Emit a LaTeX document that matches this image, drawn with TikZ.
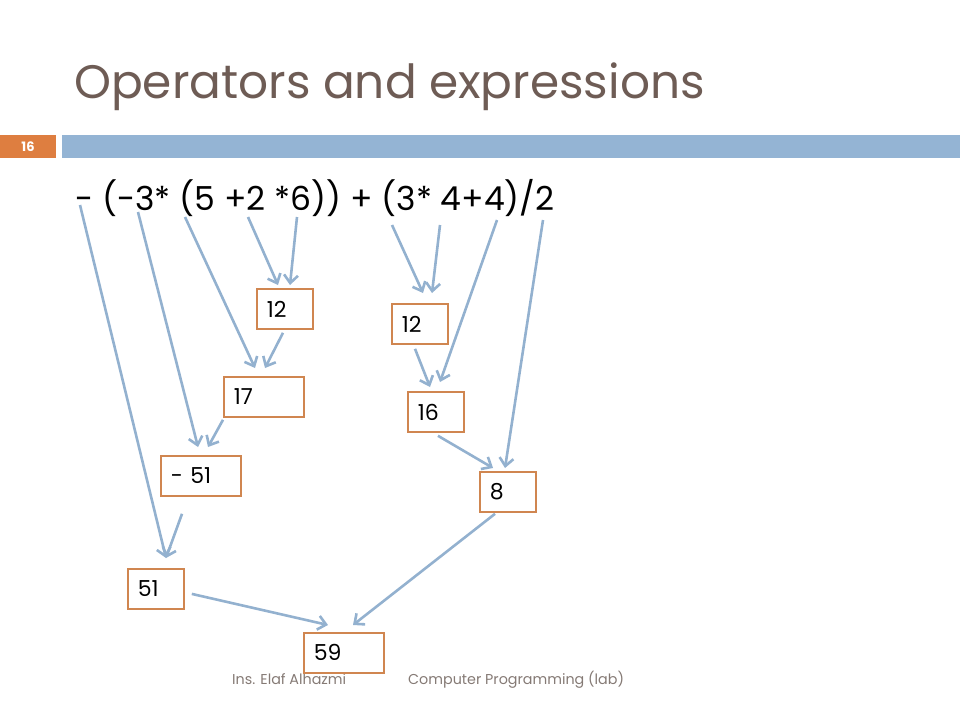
\documentclass[tikz,border=0pt]{standalone}
\usepackage{fontspec}
\setmainfont{Poppins}
\usetikzlibrary{arrows.meta,calc}
\definecolor{titlebrown}{HTML}{6E5C55}
\definecolor{barblue}{HTML}{94B4D4}
\definecolor{numorange}{HTML}{DE7E40}
\definecolor{boxorange}{HTML}{D08650}
\definecolor{arrblue}{HTML}{93B1CF}
\definecolor{footgray}{HTML}{857A75}
\begin{document}
\begin{tikzpicture}[x=1pt,y=-1pt,
  valbox/.style={draw=boxorange,line width=1.8pt,fill=white,anchor=north west,
    minimum height=40pt,inner xsep=10pt,inner ysep=0pt,align=left,font=\fontsize{22}{24}\selectfont},
  narrow/.style={valbox,text width=36pt,minimum width=56pt},
  wide/.style={valbox,text width=60pt,minimum width=80pt},
  arr/.style={draw=arrblue,line width=2.6pt,-{Straight Barb[length=8pt,width=14pt]}}]
\useasboundingbox (0,0) rectangle (960,720);
\node[anchor=base west,text=titlebrown,inner sep=0pt,font=\fontsize{47}{50}\selectfont] (title) at (74,98) {Operators and expressions};
\fill[numorange] (0,135) rectangle (56,158);
\fill[barblue] (62,135) rectangle (960,158);
\node[text=white,font=\fontsize{13}{14}\selectfont\bfseries] (slideno) at (28,147) {16};
\node[anchor=base west,inner sep=0pt,font=\fontsize{33}{36}\selectfont] (expr) at (75,210) {- (-3* (5 +2 *6)) + (3* 4+4)/2};
\node[anchor=base west,inner sep=0pt,text=footgray,font=\fontsize{14.3}{16}\selectfont] (author) at (232,684) {Ins. Elaf Alhazmi};
\node[anchor=base west,inner sep=0pt,text=footgray,font=\fontsize{14.3}{16}\selectfont] (course) at (408,684) {Computer Programming (lab)};
\coordinate (sMinus) at (80,205);
\coordinate (sThree) at (138,212);
\coordinate (sFive) at (185,217);
\coordinate (sTwo) at (248,217);
\coordinate (sSix) at (297,217);
\coordinate (sThreeB) at (392,225);
\coordinate (sFour) at (440,225);
\coordinate (sFourB) at (497,220);
\coordinate (sHalf) at (543,220);
\node[narrow] (twelveA) at (256,288) {12};
\node[wide] (seventeen) at (223,376) {17};
\node[wide] (minusfiftyone) at (160,455) {- 51};
\node[narrow] (fiftyone) at (127,568) {51};
\node[wide] (fiftynine) at (303,632) {59};
\node[narrow] (twelveB) at (391,303) {12};
\node[narrow] (sixteen) at (407,391) {16};
\node[narrow] (eight) at (479,471) {8};
\draw[arr] (sMinus) -- ([shift={(39,-10)}]fiftyone.north west);
\draw[arr] (sThree) -- ([shift={(38,-8)}]minusfiftyone.north west);
\draw[arr] (sFive) -- ([shift={(32,-8)}]seventeen.north west);
\draw[arr] (sTwo) -- ([shift={(22,-3)}]twelveA.north west);
\draw[arr] (sSix) -- ([shift={(34,-3)}]twelveA.north west);
\draw[arr] ([shift={(27,3)}]twelveA.south west) -- ([shift={(42,-8)}]seventeen.north west);
\draw[arr] ([shift={(0,2)}]seventeen.south west) -- ([shift={(48,-8)}]minusfiftyone.north west);
\draw[arr] ([shift={(22,17)}]minusfiftyone.south west) -- ([shift={(39,-10)}]fiftyone.north west);
\draw[arr] (sThreeB) -- ([shift={(32,-10)}]twelveB.north west);
\draw[arr] (sFour) -- ([shift={(41,-10)}]twelveB.north west);
\draw[arr] (sFourB) -- ([shift={(33,-9)}]sixteen.north west);
\draw[arr] (sHalf) -- ([shift={(26,-3)}]eight.north west);
\draw[arr] ([shift={(24,4)}]twelveB.south west) -- ([shift={(23,-4)}]sixteen.north west);
\draw[arr] ([shift={(31,3)}]sixteen.south west) -- ([shift={(14,-3)}]eight.north west);
\draw[arr] ([shift={(7,5)}]fiftyone.east) -- ([shift={(25,-7)}]fiftynine.north west);
\draw[arr] ([shift={(16,1)}]eight.south west) -- ([shift={(50,-7)}]fiftynine.north west);
\end{tikzpicture}
\end{document}
